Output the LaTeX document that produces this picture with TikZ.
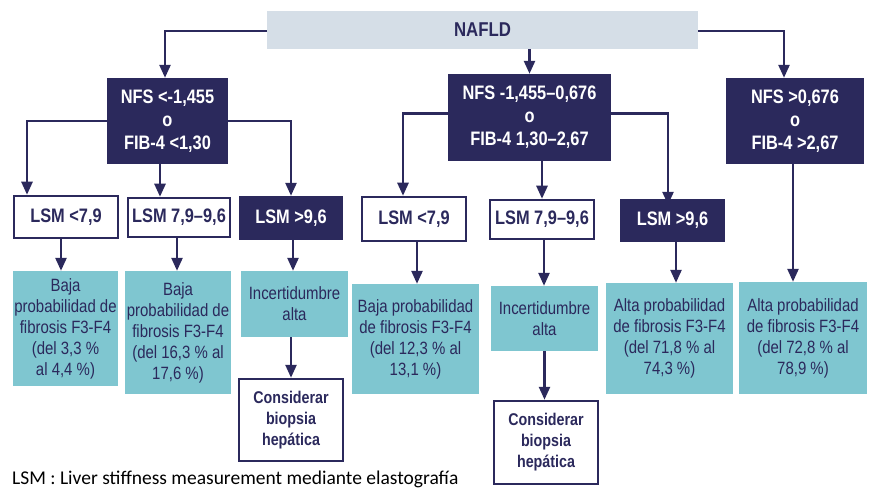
\documentclass[tikz,border=0pt]{standalone}
\usepackage{fontspec}
\setmainfont[FakeStretch=0.84]{Liberation Sans}
\newfontfamily\notefont{Carlito}
\usetikzlibrary{arrows.meta}
\definecolor{navy}{RGB}{43,41,92}
\definecolor{teal}{RGB}{127,198,208}
\definecolor{lgrey}{RGB}{213,222,231}
\tikzset{
  arr/.style={draw=navy, line width=2.5pt, -{Triangle[width=11pt,length=13pt]}},
  darkbox/.style={fill=navy, text=white, inner sep=0pt, align=center,
    font=\bfseries\fontsize{19.5}{23}\selectfont},
  lsmbox/.style={draw=navy, line width=2.5pt, fill=white, text=navy, inner sep=0pt, align=center,
    font=\bfseries\fontsize{19.5}{22}\selectfont},
  lsmdark/.style={fill=navy, text=white, inner sep=0pt, align=center,
    font=\bfseries\fontsize{19.5}{22}\selectfont},
  resbox/.style={fill=teal, text=navy, inner sep=0pt, align=center,
    font=\fontsize{17.8}{21}\selectfont},
  biobox/.style={draw=navy, line width=2.5pt, fill=white, text=navy, inner sep=0pt, align=center,
    font=\bfseries\fontsize{17}{21}\selectfont},
}
\begin{document}
\begin{tikzpicture}[x=1pt,y=-1pt]
\useasboundingbox[fill=white] (0,0) rectangle (880,489);
% top
\node[fill=lgrey, minimum width=431pt, minimum height=38pt, inner sep=0pt, text=navy,
  font=\bfseries\fontsize{20}{22}\selectfont] (nafld) at (482.5,30) {NAFLD};
% level 2
\node[darkbox, minimum width=121pt, minimum height=86pt] (A) at (167.5,121) {NFS <-1,455\\o\\FIB-4 <1,30};
\node[darkbox, minimum width=163pt, minimum height=87pt] (B) at (529.5,117.5) {NFS -1,455--0,676\\o\\FIB-4 1,30--2,67};
\node[darkbox, minimum width=138pt, minimum height=86pt] (C) at (795,121) {NFS >0,676\\o\\FIB-4 >2,67};
% LSM row
\node[lsmbox, minimum width=104pt, minimum height=42pt] (L1) at (66,217) {LSM <7,9};
\node[lsmbox, minimum width=102pt, minimum height=39pt] (L2) at (179,217.5) {LSM 7,9--9,6};
\node[lsmdark, minimum width=104pt, minimum height=44pt] (L3) at (291,218) {LSM >9,6};
\node[lsmbox, minimum width=104pt, minimum height=44pt] (L4) at (414,219) {LSM <7,9};
\node[lsmbox, minimum width=104pt, minimum height=39pt] (L5) at (542,219.5) {LSM 7,9--9,6};
\node[lsmdark, minimum width=105pt, minimum height=43pt] (L6) at (672.5,220.5) {LSM >9,6};
% results
\node[resbox, minimum width=105pt, minimum height=115pt] (R1) at (65.5,328.5) {Baja\\probabilidad de\\fibrosis F3-F4\\(del 3,3 \%\\al 4,4 \%)};
\node[resbox, minimum width=106pt, minimum height=123pt] (R2) at (178,332.5) {Baja\\probabilidad de\\fibrosis F3-F4\\(del 16,3 \% al\\17,6 \%)};
\node[resbox, minimum width=107pt, minimum height=66pt] (R3) at (294.5,304) {Incertidumbre\\alta};
\node[biobox, minimum width=104pt, minimum height=82pt] (B1) at (291,420) {Considerar\\biopsia\\hepática};
\node[resbox, minimum width=127pt, minimum height=110pt] (R4) at (415.5,339) {Baja probabilidad\\de fibrosis F3-F4\\(del 12,3 \% al\\13,1 \%)};
\node[resbox, minimum width=107pt, minimum height=65pt] (R5) at (544.5,318.5) {Incertidumbre\\alta};
\node[biobox, minimum width=104pt, minimum height=83pt] (B2) at (546,442.5) {Considerar\\biopsia\\hepática};
\node[resbox, minimum width=127pt, minimum height=111pt] (R6) at (669.5,338.5) {Alta probabilidad\\de fibrosis F3-F4\\(del 71,8 \% al\\74,3 \%)};
\node[resbox, minimum width=128pt, minimum height=112pt] (R7) at (803,338) {Alta probabilidad\\de fibrosis F3-F4\\(del 72,8 \% al\\78,9 \%)};
% footnote
\node[anchor=base west, inner sep=0pt, text=black, font=\notefont\fontsize{19.5}{22}\selectfont] (note) at (12,484) {LSM : Liver stiffness measurement mediante elastografía};
% connectors from NAFLD
\draw[arr] ([yshift=-1pt]nafld.west) -| ([xshift=-2.5pt]A.north);
\draw[arr] (nafld.south -| B.north) -- (B.north);
\draw[arr] ([yshift=-1pt]nafld.east) -| ([xshift=-11pt]C.north);
% from A
\draw[arr] (A.west) -| ([xshift=-39pt]L1.north);
\draw[arr] ([xshift=-7.5pt]A.south) -- ([xshift=-7.5pt]A.south |- L2.north);
\draw[arr] (A.east) -| (L3.north);
% from B
\draw[arr] ([yshift=4pt]B.west) -| ([xshift=-11pt]L4.north);
\draw[arr] (B.south -| L5.north) -- (L5.north);
\draw[arr] ([yshift=4pt]B.east) -| ([xshift=-4.5pt,yshift=-6pt]L6.north);
% from C
\draw[arr] ([xshift=-2pt]C.south) -- ([xshift=-2pt]C.south |- R7.north);
% LSM to results
\draw[arr] ([xshift=-5pt]L1.south) -- ([xshift=-5pt]L1.south |- R1.north);
\draw[arr] ([xshift=-2pt]L2.south) -- ([xshift=-2pt]L2.south |- R2.north);
\draw[arr] ([xshift=2pt]L3.south) -- ([xshift=2pt]L3.south |- R3.north);
\draw[arr] (R3.south -| B1.north) -- (B1.north);
\draw[arr] ([xshift=3pt]L4.south) -- ([xshift=3pt]L4.south |- R4.north);
\draw[arr] ([xshift=2pt]L5.south) -- ([xshift=2pt]L5.south |- R5.north);
\draw[arr] (R5.south -| R5.north) -- (R5.south |- B2.north);
\draw[arr] ([xshift=3.5pt]L6.south) -- ([xshift=3.5pt]L6.south |- R6.north);
\end{tikzpicture}
\end{document}
